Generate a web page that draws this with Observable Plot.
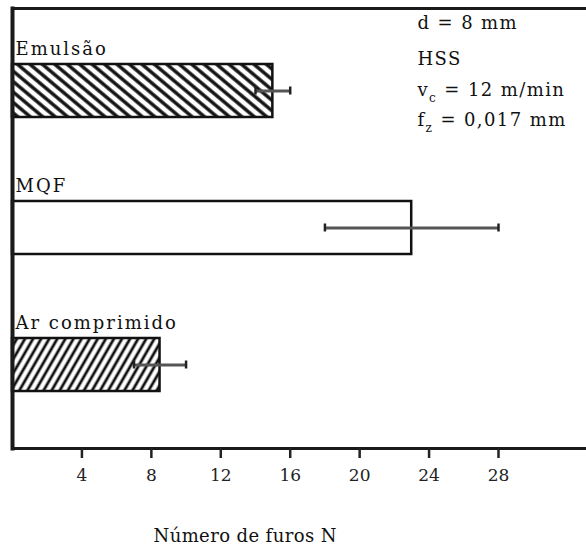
<!DOCTYPE html>
<html><head><meta charset="utf-8">
<script src="https://cdn.jsdelivr.net/npm/d3@7"></script>
<script src="https://cdn.jsdelivr.net/npm/@observablehq/plot@0.6"></script>
<style>
body{margin:0;background:#fff}
svg{display:block}
#chart svg, #chart svg text, #chart svg g { font-family: "DejaVu Serif", serif !important; }
</style>
</head><body><div id="chart"></div>
<script>
const categories = ["Emulsão", "MQF", "Ar comprimido"];
const values = [15, 23, 8.5];
const errLow = [14, 18, 7];
const errHigh = [16, 28, 10];
const xTicks = [4, 8, 12, 16, 20, 24, 28];
const notes = ["d = 8 mm", "HSS", "v_c = 12 m/min", "f_z = 0,017 mm"];
const xLabel = "Número de furos N";

const data = categories.map((c, i) => ({cat: c, value: values[i], lo: errLow[i], hi: errHigh[i]}));
const noteDy = [20, 56, 87, 117];

const chart = Plot.plot({
  width: 586, height: 549,
  marginTop: 8, marginBottom: 101, marginLeft: 12, marginRight: 0,
  style: {fontSize: "18px", color: "#111", background: "white"},
  x: {domain: [0, 33.07]},
  y: {domain: categories, paddingInner: 0.613, paddingOuter: 0.412, axis: null},
  color: {domain: categories, range: ["url(#hatchBack)", "white", "url(#hatchFwd)"]},
  marks: [
    Plot.barX(data, {y: "cat", x: "value", fill: "cat", stroke: "#111", strokeWidth: 2.5}),
    Plot.ruleY(data, {y: "cat", x1: "lo", x2: "hi", stroke: "#555", strokeWidth: 3}),
    Plot.tickX(data, {y: "cat", x: "lo", stroke: "#222", strokeWidth: 2.5, insetTop: 22.5, insetBottom: 22.5}),
    Plot.tickX(data, {y: "cat", x: "hi", stroke: "#222", strokeWidth: 2.5, insetTop: 22.5, insetBottom: 22.5}),
    Plot.text(data, {y: "cat", x: 0, text: "cat", textAnchor: "start", lineAnchor: "bottom", dx: 3, dy: -36.5, fill: "#111"}),
    Plot.frame({anchor: "top", stroke: "#1a1a1a", strokeWidth: 3}),
    Plot.frame({anchor: "bottom", stroke: "#1a1a1a", strokeWidth: 3}),
    Plot.frame({anchor: "left", stroke: "#1a1a1a", strokeWidth: 4}),
    Plot.axisX({ticks: xTicks, tickSize: 10, tickPadding: 10, strokeWidth: 2.5, stroke: "#222", fill: "#222", fontSize: 17, label: null}),
    ...notes.map((t, i) => Plot.text([t], {frameAnchor: "top-left", dx: 405, dy: noteDy[i], textAnchor: "start", lineAnchor: "bottom", fill: "#111"})),
    Plot.text([xLabel], {frameAnchor: "bottom-left", dx: 141, dy: 93, textAnchor: "start", lineAnchor: "bottom", fill: "#111"})
  ]
});

chart.insertAdjacentHTML("afterbegin", `<defs>
<pattern id="hatchBack" width="8" height="8" patternUnits="userSpaceOnUse" patternTransform="rotate(-50)">
<rect width="8" height="8" fill="white"/><line x1="2" y1="0" x2="2" y2="8" stroke="#111" stroke-width="3.4"/></pattern>
<pattern id="hatchFwd" width="7" height="7" patternUnits="userSpaceOnUse" patternTransform="rotate(30)">
<rect width="7" height="7" fill="white"/><line x1="2" y1="0" x2="2" y2="7" stroke="#111" stroke-width="2.8"/></pattern>
</defs>`);

chart.querySelectorAll("text").forEach(el => {
  const s = el.textContent;
  if (categories.includes(s)) el.style.letterSpacing = "2px";
  else if (notes.includes(s)) el.style.letterSpacing = "1.4px";
  else if (s === xLabel) el.style.letterSpacing = "0.4px";
  const k = s.indexOf("_");
  if (k >= 0) {
    const base = s.slice(0, k), sub = s[k + 1], rest = s.slice(k + 2);
    el.textContent = "";
    const ns = "http://www.w3.org/2000/svg";
    const t0 = document.createElementNS(ns, "tspan"); t0.textContent = base;
    const t1 = document.createElementNS(ns, "tspan"); t1.textContent = sub; t1.setAttribute("dy", "6"); t1.setAttribute("font-size", "12");
    const t2 = document.createElementNS(ns, "tspan"); t2.textContent = rest; t2.setAttribute("dy", "-6");
    el.append(t0, t1, t2);
  }
});

document.getElementById("chart").append(chart);
</script>
</body></html>
